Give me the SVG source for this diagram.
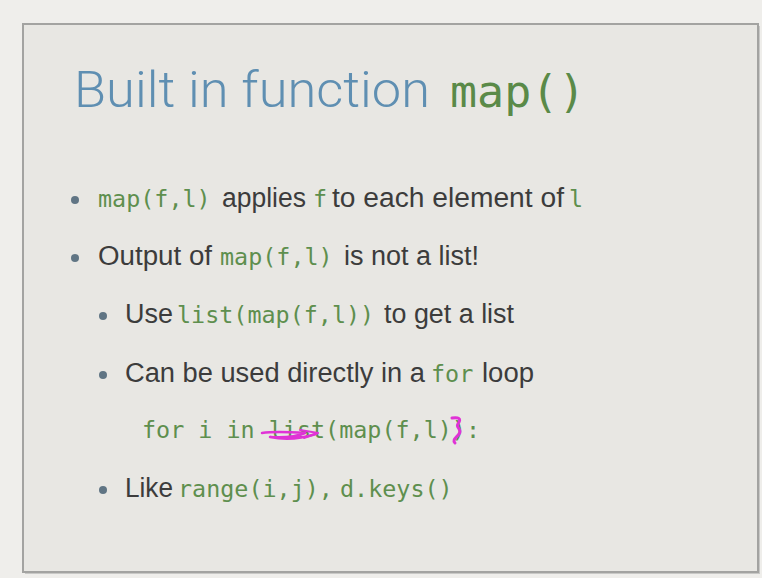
<svg xmlns="http://www.w3.org/2000/svg" width="762" height="578" viewBox="0 0 762 578">
<style>
.sans{font-family:"Liberation Sans","Helvetica Neue",Arial,sans-serif;font-size:27px;fill:#3c3c3c}
.code{font-family:"DejaVu Sans Mono",Menlo,monospace;font-size:23.4px;fill:#5e8f4e}
.title{font-family:"Roboto","Liberation Sans",sans-serif;font-weight:300;font-size:50px;fill:#5f8fb2}
.tcode{font-family:"DejaVu Sans Mono",Menlo,monospace;font-size:45px;fill:#5a8a48}
.dot{fill:#607584}
.ink{fill:none;stroke:#e033d6;stroke-linecap:round;stroke-linejoin:round}
</style>
<rect x="0" y="0" width="762" height="578" fill="#efeeeb"/>
<rect x="25" y="26" width="735" height="548" fill="#c8c8c6"/>
<rect x="23" y="24" width="735" height="548" fill="#e8e7e3" stroke="#a3a3a1" stroke-width="2"/>

<g id="title">
<text x="74" y="107" class="title" textLength="356" lengthAdjust="spacingAndGlyphs">Built in function</text>
<text x="450" y="107" class="tcode">map()</text>
</g>

<g id="bullet1">
<circle cx="75" cy="200" r="4" class="dot"/>
<text y="207"><tspan x="98" class="code">map(f,l)</tspan><tspan x="222" class="sans" textLength="84" lengthAdjust="spacingAndGlyphs">applies</tspan><tspan x="313" class="code">f</tspan><tspan x="332" class="sans" textLength="232" lengthAdjust="spacingAndGlyphs">to each element of</tspan><tspan x="569" class="code">l</tspan></text>
</g>

<g id="bullet2">
<circle cx="75" cy="258" r="4" class="dot"/>
<text y="265"><tspan x="98" class="sans" textLength="114" lengthAdjust="spacingAndGlyphs">Output of</tspan><tspan x="220" class="code">map(f,l)</tspan><tspan x="344" class="sans" textLength="135" lengthAdjust="spacingAndGlyphs">is not a list!</tspan></text>
</g>

<g id="bullet3">
<circle cx="103" cy="316" r="4" class="dot"/>
<text y="323"><tspan x="125" class="sans">Use</tspan><tspan x="177" class="code">list(map(f,l))</tspan><tspan x="384" class="sans" textLength="130" lengthAdjust="spacingAndGlyphs">to get a list</tspan></text>
</g>

<g id="bullet4">
<circle cx="103" cy="375" r="4" class="dot"/>
<text y="382"><tspan x="125" class="sans" textLength="300" lengthAdjust="spacingAndGlyphs">Can be used directly in a</tspan><tspan x="431" class="code">for</tspan><tspan x="482" class="sans" textLength="52" lengthAdjust="spacingAndGlyphs">loop</tspan></text>
</g>

<g id="codeline">
<text x="142" y="438" class="code">for i in list(map(f,l)):</text>
<path class="ink" stroke-width="2.5" d="M262 433 C275 431 290 432 305 433 C298 436 285 438 270 437 C285 440 300 439 316 434"/>
<path class="ink" stroke-width="2" d="M300 430 L318 433 L304 438"/>
<path class="ink" stroke-width="3" d="M452 418 C458 417 462 418 458 424 C455 428 463 429 459 434 C456 438 452 440 455 443"/>
</g>

<g id="bullet5">
<circle cx="103" cy="490" r="4" class="dot"/>
<text y="497"><tspan x="125" class="sans" textLength="48" lengthAdjust="spacingAndGlyphs">Like</tspan><tspan x="178" class="code">range(i,j),</tspan><tspan x="340" class="code">d.keys()</tspan></text>
</g>
</svg>
